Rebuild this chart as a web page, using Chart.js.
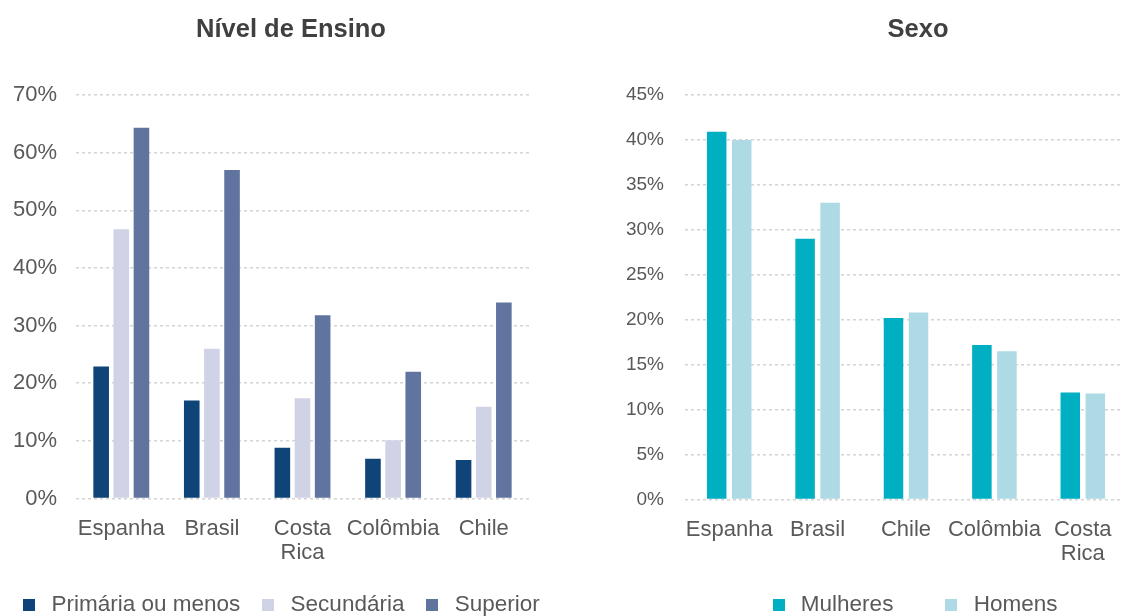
<!DOCTYPE html>
<html>
<head>
<meta charset="utf-8">
<script src="https://cdn.jsdelivr.net/npm/chart.js@4.4.1/dist/chart.umd.min.js"></script>
<style>
  html, body { margin: 0; padding: 0; background: #ffffff; }
  #wrap { position: relative; width: 1123px; height: 616px; overflow: hidden; }
  #box1 { position: absolute; left: 0; top: 0; width: 560px; height: 616px; }
  #box2 { position: absolute; left: 560px; top: 0; width: 570px; height: 647px; }
</style>
</head>
<body>
<div id="wrap">
  <div id="box1"><canvas id="chartEnsino"></canvas></div>
  <div id="box2"><canvas id="chartSexo"></canvas></div>
</div>
<script>
// Nivel de Ensino (percent)
var ensinoCountries = ['Espanha', 'Brasil', 'Costa Rica', 'Colômbia', 'Chile'];
var primaria   = [22.9, 17.0, 8.8, 6.9, 6.7];
var secundaria = [46.7, 26.0, 17.4, 10.1, 15.9];
var superior   = [64.3, 57.0, 31.8, 22.0, 34.0];

// Sexo (percent)
var sexoCountries = ['Espanha', 'Brasil', 'Chile', 'Colômbia', 'Costa Rica'];
var mulheres = [40.9, 29.0, 20.2, 17.2, 11.9];
var homens   = [40.0, 33.0, 20.8, 16.5, 11.8];

var FONT = '"Liberation Sans", Arial, sans-serif';
var TEXT = '#595959';
var GRID = '#d4d4d4';

// small square used as legend marker (drawn at its own size, centred in a wider slot)
function swatch(color) {
  var c = document.createElement('canvas');
  c.width = 12; c.height = 12;
  var g = c.getContext('2d');
  g.fillStyle = color;
  g.fillRect(0, 0, 12, 12);
  return c;
}

// moves title / legend boxes after layout so they sit where the original has them
var placeBoxes = {
  id: 'placeBoxes',
  afterLayout: function(chart, args, opts) {
    var lg = chart.legend;
    var tt = chart.titleBlock;
    if (lg && opts.legendX != null) {
      var dx = opts.legendX - (lg.left + lg.right) / 2;
      lg.left += dx; lg.right += dx;
    }
    if (lg && opts.legendY != null) {
      var p = lg.options.labels.padding;
      var fs = lg.options.labels.font.size;
      var dy = opts.legendY - (lg.top + p + fs / 2);
      lg.top += dy; lg.bottom += dy;
    }
    if (tt && opts.titleX != null) {
      var tx = opts.titleX - (tt.left + tt.right) / 2;
      tt.left += tx; tt.right += tx;
    }
  }
};

function splitLabel(value) {
  var label = this.getLabelForValue(value);
  return label.indexOf(' ') > 0 ? label.split(' ') : label;
}

function makeChart(id, cfg) {
  return new Chart(document.getElementById(id), {
    type: 'bar',
    data: { labels: cfg.labels, datasets: cfg.datasets },
    plugins: [placeBoxes],
    options: {
      responsive: true,
      maintainAspectRatio: false,
      animation: false,
      layout: { padding: 0 },
      datasets: {
        bar: { categoryPercentage: cfg.catPct, barPercentage: cfg.barPct }
      },
      scales: {
        x: {
          grid: { display: false },
          border: { display: false },
          ticks: {
            color: TEXT,
            font: { family: FONT, size: 22, lineHeight: 1.1 },
            padding: 10,
            maxRotation: 0,
            autoSkip: false,
            callback: splitLabel
          },
          afterFit: function(s) { s.height = cfg.xHeight; }
        },
        y: {
          min: 0,
          max: cfg.yMax,
          grid: { color: GRID, lineWidth: 1.5, drawTicks: false },
          border: { display: false, dash: [3, 3] },
          ticks: {
            stepSize: cfg.yStep,
            color: TEXT,
            font: { family: FONT, size: cfg.tickSize },
            padding: cfg.tickPad,
            callback: function(v) { return v + '%'; }
          },
          afterFit: function(s) { s.width = cfg.yWidth; }
        },
        // empty right-hand strip so the plot ends where the original does
        // while the legend still gets the full width
        yRight: {
          type: 'linear',
          position: 'right',
          grid: { display: false },
          border: { display: false },
          ticks: { display: false },
          afterFit: function(s) { s.width = cfg.padRight; }
        }
      },
      plugins: {
        title: {
          display: true,
          text: cfg.title,
          color: '#404040',
          font: { family: FONT, size: 25.5, weight: 'bold', lineHeight: 1.2 },
          padding: { top: 14.6, bottom: 49.8 }
        },
        legend: {
          position: 'bottom',
          labels: {
            color: TEXT,
            font: { family: FONT, size: 22.5 },
            usePointStyle: true,
            boxHeight: 12,
            pointStyleWidth: 22,
            padding: cfg.legendPad,
            generateLabels: function(chart) {
              var items = Chart.defaults.plugins.legend.labels.generateLabels(chart);
              items.forEach(function(it) { it.pointStyle = swatch(it.fillStyle); });
              return items;
            }
          }
        },
        tooltip: { enabled: false },
        placeBoxes: { legendX: cfg.legendX, legendY: 605, titleX: cfg.titleX }
      }
    }
  });
}

makeChart('chartEnsino', {
  title: 'Nível de Ensino',
  labels: ensinoCountries,
  datasets: [
    { label: 'Primária ou menos', data: primaria, backgroundColor: '#0f4478' },
    { label: 'Secundária', data: secundaria, backgroundColor: '#d0d3e5' },
    { label: 'Superior', data: superior, backgroundColor: '#6174a0' }
  ],
  yMax: 70, yStep: 10, tickSize: 22, tickPad: 19, yWidth: 76,
  padRight: 31, catPct: 0.667, barPct: 0.775,
  xHeight: 68, legendPad: 17, legendX: 279, titleX: 291
});

makeChart('chartSexo', {
  title: 'Sexo',
  labels: sexoCountries,
  datasets: [
    { label: 'Mulheres', data: mulheres, backgroundColor: '#00afc1' },
    { label: 'Homens', data: homens, backgroundColor: '#addae4' }
  ],
  yMax: 45, yStep: 5, tickSize: 19, tickPad: 21, yWidth: 125,
  padRight: 3, catPct: 0.566, barPct: 0.78,
  xHeight: 68, legendPad: 47, legendX: 352.5, titleX: 358
});
</script>
</body>
</html>
